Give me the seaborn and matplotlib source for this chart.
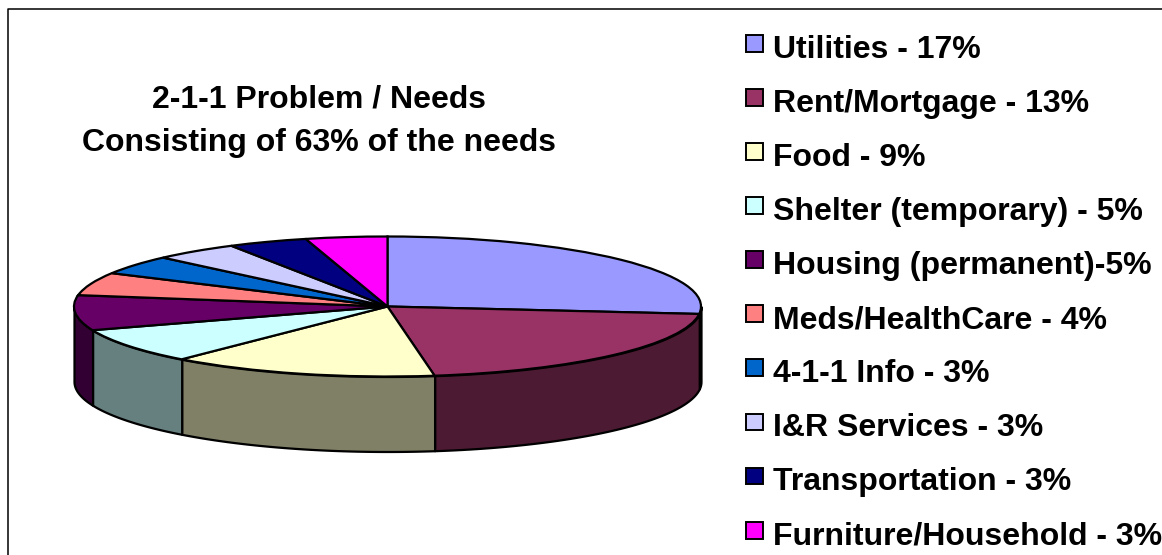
import numpy as np
import matplotlib
matplotlib.use('Agg')
import matplotlib.pyplot as plt
from matplotlib.lines import Line2D
from matplotlib.patches import Patch
from matplotlib.colors import to_rgb
import seaborn as sns

# Data
needs = ['Utilities - 17%', 'Rent/Mortgage - 13%', 'Food - 9%', 'Shelter (temporary) - 5%',
         'Housing (permanent)-5%', 'Meds/HealthCare - 4%', '4-1-1 Info - 3%',
         'I&R Services - 3%', 'Transportation - 3%', 'Furniture/Household - 3%']
slice_share = [26.7, 20.9, 13.8, 8.1, 8.1, 5.3, 4.4, 4.4, 4.1, 4.2]
colors = ['#9999FF', '#993366', '#FFFFCC', '#CCFFFF', '#660066',
          '#FF8080', '#0066CC', '#CCCCFF', '#000080', '#FF00FF']
title_lines = ['2-1-1 Problem / Needs', 'Consisting of 63% of the needs']

W, H = 1162, 555
sns.set_theme(style='white')
plt.rcParams['font.family'] = ['Liberation Sans', 'DejaVu Sans']

fig = plt.figure(figsize=(W / 100, H / 100), dpi=100)

# Pie axes: 1 data unit = 313.5 px across and 70 px down, so the pie lies flat
cx, cy, rx, ry = 387.5, 306.5, 313.5, 70
wall = 75 / ry
xlim = (-1.1, 1.1)
ylim = (-2.3, 1.1)
ax = fig.add_axes([(cx + xlim[0] * rx) / W,
                   1 - (cy - ylim[0] * ry) / H,
                   (xlim[1] - xlim[0]) * rx / W,
                   (ylim[1] - ylim[0]) * ry / H])

ax.pie(slice_share, colors=colors, startangle=90, counterclock=False,
       wedgeprops={'edgecolor': 'black', 'linewidth': 1.6, 'zorder': 3})
ax.set_aspect('auto')
ax.set_xlim(*xlim)
ax.set_ylim(*ylim)

# Side wall of the slices on the front half
ends = 90 - 3.6 * np.cumsum(slice_share)
starts = np.r_[90, ends[:-1]]
for start, end, color in zip(starts, ends, colors):
    lo, hi = max(end, -180), min(start, 0)
    if lo >= hi:
        continue
    t = np.radians(np.linspace(hi, lo, 60))
    x, y = np.cos(t), np.sin(t)
    dark = tuple(c * 0.5 for c in to_rgb(color))
    ax.fill_between(x, y - wall, y, facecolor=dark, edgecolor='black', linewidth=1.6, zorder=2)

# Legend
handles = [Patch(facecolor=c, edgecolor='black', linewidth=1.4) for c in colors]
leg = fig.legend(handles, needs, loc='upper left', bbox_to_anchor=(746 / W, 1 - 35 / H),
                 frameon=False, ncol=1, prop={'weight': 'bold', 'size': 23},
                 labelcolor='black', handlelength=0.53, handleheight=0.44, handletextpad=0.3,
                 labelspacing=0.752, borderpad=0, borderaxespad=0)
# Swatches sit a little above the middle of the text
for h in leg.legend_handles:
    h.set_y(h.get_y() + 2)

# Title
fig.text(319 / W, 1 - 100 / H, title_lines[0], ha='center', va='center', fontsize=23,
         fontweight='bold', color='black')
fig.text(319 / W, 1 - 143.5 / H, title_lines[1], ha='center', va='center', fontsize=23,
         fontweight='bold', color='black')

# Chart border, only the top and left edges are in the frame
fig.add_artist(Line2D([1, 7.5 / W, 7.5 / W], [1 - 8.5 / H, 1 - 8.5 / H, 0],
                      transform=fig.transFigure, color='black', linewidth=1.1))

fig.savefig('out.png', dpi=100)
